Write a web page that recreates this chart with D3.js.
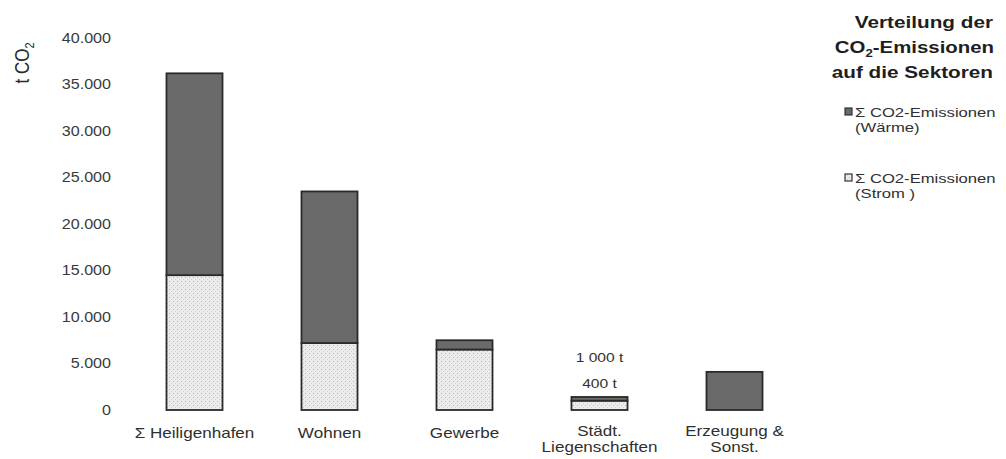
<!DOCTYPE html>
<html>
<head>
<meta charset="utf-8">
<script src="https://cdn.jsdelivr.net/npm/d3@7"></script>
<style>
  html, body { margin: 0; padding: 0; background: #fff; }
  svg { display: block; font-family: "Liberation Sans", Arial, sans-serif; }
</style>
</head>
<body>
<svg id="chart" width="1006" height="459"></svg>
<script>
// Sectors and their CO2 emissions in tonnes
const categories = ["Σ Heiligenhafen", "Wohnen", "Gewerbe", "Städt.\nLiegenschaften", "Erzeugung &\nSonst."];
const stromValues = [14500, 7200, 6500, 1000, 0];
const waermeValues = [21700, 16300, 1000, 400, 4100];
const yTicks = [0, 5000, 10000, 15000, 20000, 25000, 30000, 35000, 40000];
const seriesNames = ["Σ CO2-Emissionen\n(Wärme)", "Σ CO2-Emissionen\n(Strom )"];
const annotated = [3]; // sectors whose segment values are written above the bar

const svg = d3.select("#chart");
const SX = 1.25; // the type is set slightly wide

// text placed at (x,y) and widened horizontally around its anchor
function wideText(parent, x, y, str, size, anchor, sx) {
  return parent.append("text")
    .attr("transform", `translate(${x},${y}) scale(${sx || SX},1)`)
    .attr("text-anchor", anchor || "middle")
    .attr("font-size", size)
    .text(str);
}

// dotted light fill for the electricity share
const defs = svg.append("defs");
const pat = defs.append("pattern")
  .attr("id", "dots").attr("width", 4).attr("height", 4)
  .attr("patternUnits", "userSpaceOnUse");
pat.append("rect").attr("width", 4).attr("height", 4).attr("fill", "#ececec");
pat.append("rect").attr("x", 1).attr("y", 1).attr("width", 1).attr("height", 1).attr("fill", "#b5b5b5");
pat.append("rect").attr("x", 3).attr("y", 3).attr("width", 1).attr("height", 1).attr("fill", "#cdcdcd");

const x = d3.scaleBand()
  .domain(categories)
  .range([127, 802])
  .paddingInner(0.585)
  .paddingOuter(0.2925);

const y = d3.scaleLinear().domain([0, 40000]).range([410, 38]);

const fmt = v => d3.format(",")(v).replace(/,/g, ".");

// y axis: labels only
const yAxis = d3.axisLeft(y).tickValues(yTicks).tickFormat(fmt).tickSize(0).tickPadding(0);
const gy = svg.append("g").attr("transform", "translate(111,0)").call(yAxis);
gy.select(".domain").remove();
gy.selectAll(".tick text")
  .attr("font-size", 14).attr("fill", "#3a3a3a")
  .attr("font-family", "Liberation Sans, Arial, sans-serif")
  .attr("transform", "scale(1.15,1)")
  .attr("x", 0);

// axis title
svg.append("text")
  .attr("transform", "translate(29,63) scale(1.2,1) rotate(-90)")
  .attr("text-anchor", "middle")
  .attr("font-size", 17).attr("fill", "#2a2a2a")
  .html('t CO<tspan font-size="11" dy="4">2</tspan>');

// stacked data
const rows = categories.map((c, i) => ({ cat: c, strom: stromValues[i], waerme: waermeValues[i] }));
const stack = d3.stack().keys(["strom", "waerme"])(rows);
const fills = { strom: "url(#dots)", waerme: "#6a6a6a" };

const bars = svg.append("g");
stack.forEach(layer => {
  bars.selectAll(null)
    .data(layer.filter(d => d[1] > d[0]))
    .join("rect")
    .attr("x", d => x(d.data.cat))
    .attr("width", x.bandwidth())
    .attr("y", d => y(d[1]))
    .attr("height", d => y(d[0]) - y(d[1]))
    .attr("fill", fills[layer.key])
    .attr("stroke", "#2a2a2a")
    .attr("stroke-width", 1.8);
});

// segment value labels
annotated.forEach(i => {
  const r = rows[i];
  const cx = x(r.cat) + x.bandwidth() / 2;
  const top = y(r.strom + r.waerme);
  wideText(svg, cx, top - 9, fmt(r.waerme) + " t", 12, "middle", 1.3).attr("fill", "#333");
  wideText(svg, cx, top - 35, fmt(r.strom).replace(".", " ") + " t", 12, "middle", 1.3).attr("fill", "#333");
});

// category labels
const xAxis = svg.append("g").attr("fill", "#2f2f2f");
categories.forEach(c => {
  const lines = c.split("\n");
  const cx = x(c) + x.bandwidth() / 2;
  lines.forEach((l, k) => {
    wideText(xAxis, cx, (lines.length > 1 ? 436 : 438) + k * 16, l, 14, "middle", 1.22);
  });
});

// legend title
const title = svg.append("g").attr("fill", "#1e1e1e").attr("font-weight", "bold");
wideText(title, 993, 28, "Verteilung der", 17, "end", 1.22);
wideText(title, 994, 53, "", 17, "end", 1.2)
  .html('CO<tspan font-size="11" dy="4">2</tspan><tspan dy="-4">-Emissionen</tspan>');
wideText(title, 993, 78, "auf die Sektoren", 17, "end", 1.22);

// legend entries
const legend = svg.append("g").attr("fill", "#2f2f2f");
[["waerme", 0], ["strom", 1]].forEach(([key, i]) => {
  const yy = 117 + i * 66;
  legend.append("rect").attr("x", 845).attr("y", yy - 9).attr("width", 7).attr("height", 7)
    .attr("fill", fills[key]).attr("stroke", "#333").attr("stroke-width", 1.2);
  const lines = seriesNames[i].split("\n");
  wideText(legend, 855, yy, lines[0], 13, "start", 1.28);
  wideText(legend, 855, yy + 15, lines[1], 13, "start", 1.28);
});
</script>
</body>
</html>
